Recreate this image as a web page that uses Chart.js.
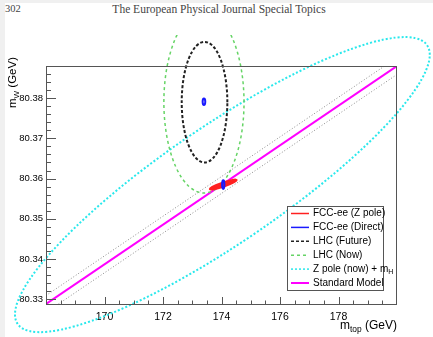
<!DOCTYPE html>
<html>
<head>
<meta charset="utf-8">
<script src="https://cdn.jsdelivr.net/npm/chart.js@4.4.0/dist/chart.umd.min.js"></script>
<style>
  html, body { margin: 0; padding: 0; }
  body { width: 433px; height: 337px; overflow: hidden; position: relative; background: #f0f0f0; }
  #page { position: absolute; left: 5px; top: 3px; right: 0; bottom: 0; background: #fff; }
  #pageno { position: absolute; left: 5px; top: 3px; font: 10.5px "Liberation Serif", serif; color: #444; }
  #runhead { position: absolute; left: 0; width: 438px; top: 3px; text-align: center; font: 11.5px "Liberation Serif", serif; color: #444; }
  #wrap { position: absolute; left: 0; top: 35px; width: 433px; height: 302px; }
</style>
</head>
<body>
<div id="page"></div>
<div id="pageno">302</div>
<div id="runhead">The European Physical Journal Special Topics</div>
<div id="wrap"><canvas id="c" width="433" height="302"></canvas></div>
<script>
// axis range and ticks
const xMin = 168, xMax = 180;
const yMin = 80.3288, yMax = 80.388;
const xTicks = [170, 172, 174, 176, 178];
const yTicks = [80.33, 80.34, 80.35, 80.36, 80.37, 80.38];

// Standard Model line and its band
const smTop = [168, 180];
const smW = [80.3288, 80.388];
const bandUpW = [80.3309, 80.3901];
const bandLoW = [80.3267, 80.3859];

// contours: centre, half widths, correlation
const zPoleNow = { mt: 174.03, mw: 80.3585, sMt: 7.09, sMw: 0.0367, rho: 0.88 };
const lhcNow = { mt: 173.40, mw: 80.3790, sMt: 1.37, sMw: 0.0226, rho: 0 };
const lhcFuture = { mt: 173.42, mw: 80.3790, sMt: 0.78, sMw: 0.0150, rho: 0 };
const fccZpole = { mt: 174.06, mw: 80.3585, sMt: 0.46, sMw: 0.00124, rho: 0.9 };
const fccDirectA = { mt: 173.40, mw: 80.3791, sMt: 0.045, sMw: 0.0008, rho: 0 };
const fccDirectB = { mt: 174.06, mw: 80.3585, sMt: 0.04, sMw: 0.0011, rho: 0 };

const legendLabels = ['FCC-ee (Z pole)', 'FCC-ee (Direct)', 'LHC (Future)', 'LHC (Now)', 'Z pole (now) + m_H', 'Standard Model'];
const legendColors = ['#ff2020', '#1a1aff', '#222222', '#66d466', '#2ae8ec', '#ff00ff'];
const legendDash = [[], [], [3, 2], [3, 3], [2, 2], []];
const legendWidth = [1.5, 1.5, 1.5, 1.5, 1.5, 2];

const contours = [
  { c: zPoleNow, color: '#2ae8ec', dash: [2, 2], width: 2 },
  { c: lhcNow, color: '#66d466', dash: [3, 3], width: 1.5 },
  { c: lhcFuture, color: '#222222', dash: [3, 2], width: 2 },
  { c: fccZpole, color: '#ff2020', dash: [], width: 2, fill: true },
  { c: fccDirectA, color: '#1a1aff', dash: [], width: 2 },
  { c: fccDirectB, color: '#1a1aff', dash: [], width: 2 }
];

const FONT = '"Liberation Sans", Arial, sans-serif';

function drawContour(chart, item) {
  const { ctx, scales: { x, y } } = chart;
  const c = item.c;
  const cx = x.getPixelForValue(c.mt), cy = y.getPixelForValue(c.mw);
  const ax = x.getPixelForValue(c.mt + c.sMt) - cx;
  const ay = y.getPixelForValue(c.mw + c.sMw) - cy;
  const r = Math.sqrt(1 - c.rho * c.rho);
  ctx.save();
  ctx.beginPath();
  ctx.transform(ax, c.rho * ay, 0, r * ay, cx, cy);
  ctx.arc(0, 0, 1, 0, 2 * Math.PI);
  ctx.restore();
  ctx.save();
  if (item.fill) {
    ctx.fillStyle = item.color;
    ctx.fill();
  }
  ctx.strokeStyle = item.color;
  ctx.lineWidth = item.width;
  ctx.setLineDash(item.dash);
  ctx.stroke();
  ctx.restore();
}

// text with "_X" subscript
function richText(ctx, text, x, y, size) {
  const parts = text.split('_');
  ctx.font = size + 'px ' + FONT;
  ctx.fillText(parts[0], x, y);
  if (parts.length > 1) {
    const w = ctx.measureText(parts[0]).width;
    const sub = parts[1].split(' ')[0];
    const rest = parts[1].slice(sub.length);
    ctx.font = (size * 0.7) + 'px ' + FONT;
    ctx.fillText(sub, x + w, y + size * 0.25);
    const ws = ctx.measureText(sub).width;
    ctx.font = size + 'px ' + FONT;
    ctx.fillText(rest, x + w + ws, y);
  }
}
function richWidth(ctx, text, size) {
  const parts = text.split('_');
  ctx.font = size + 'px ' + FONT;
  let w = ctx.measureText(parts[0]).width;
  if (parts.length > 1) {
    const sub = parts[1].split(' ')[0];
    ctx.font = (size * 0.7) + 'px ' + FONT;
    w += ctx.measureText(sub).width;
    ctx.font = size + 'px ' + FONT;
    w += ctx.measureText(parts[1].slice(sub.length)).width;
  }
  return w;
}

const rootStyle = {
  id: 'rootStyle',
  afterDatasetsDraw(chart) {
    const { ctx, chartArea: a, scales: { x, y } } = chart;
    contours.forEach(item => drawContour(chart, item));

    // frame
    ctx.save();
    ctx.strokeStyle = '#555';
    ctx.lineWidth = 1;
    ctx.strokeRect(a.left + 0.5, a.top + 0.5, a.right - a.left - 1, a.bottom - a.top);
    // ticks inside the frame
    ctx.beginPath();
    for (let v = xMin + 0.5; v < xMax; v += 0.5) {
      const px = Math.round(x.getPixelForValue(v)) + 0.5;
      const len = xTicks.includes(Math.round(v * 2) / 2) ? 7 : 3.5;
      ctx.moveTo(px, a.bottom);
      ctx.lineTo(px, a.bottom - len);
    }
    for (let k = 0; k * 0.002 + 80.33 < yMax; k++) {
      const v = 80.33 + k * 0.002;
      const py = Math.round(y.getPixelForValue(v)) + 0.5;
      const len = k % 5 === 0 ? 10 : 5;
      ctx.moveTo(a.left, py);
      ctx.lineTo(a.left + len, py);
    }
    ctx.stroke();
    ctx.restore();

    // axis titles
    ctx.save();
    ctx.fillStyle = '#000';
    ctx.textBaseline = 'alphabetic';
    const xt = 'm_top (GeV)';
    richText(ctx, xt, a.right - richWidth(ctx, xt, 12), a.bottom + 25, 12);
    const yt = 'm_W (GeV)';
    ctx.translate(16, 22);
    ctx.rotate(-Math.PI / 2);
    richText(ctx, yt, -richWidth(ctx, yt, 11.5), 0, 11.5);
    ctx.restore();

    // legend
    const lx = a.right - 110, lw = 96, ly = a.bottom - 98, lh = 84;
    ctx.save();
    ctx.fillStyle = '#fff';
    ctx.fillRect(lx, ly, lw, lh);
    ctx.strokeStyle = '#555';
    ctx.lineWidth = 1;
    ctx.strokeRect(lx + 0.5, ly + 0.5, lw, lh);
    ctx.textBaseline = 'middle';
    legendLabels.forEach((lab, i) => {
      const yy = ly + 7.5 + i * 13.9;
      ctx.beginPath();
      ctx.strokeStyle = legendColors[i];
      ctx.lineWidth = legendWidth[i];
      ctx.setLineDash(legendDash[i]);
      ctx.moveTo(lx + 4, yy);
      ctx.lineTo(lx + 22, yy);
      ctx.stroke();
      ctx.fillStyle = '#000';
      richText(ctx, lab, lx + 26, yy, 10);
    });
    ctx.restore();
  }
};

const mkLine = (label, ys, color, w, dash) => ({
  label,
  data: smTop.map((v, i) => ({ x: v, y: ys[i] })),
  showLine: true,
  borderColor: color,
  borderWidth: w,
  borderDash: dash,
  pointRadius: 0,
  fill: false
});

new Chart(document.getElementById('c'), {
  type: 'scatter',
  data: {
    datasets: [
      mkLine('band up', bandUpW, '#8a8a8a', 1, [1, 2]),
      mkLine('band low', bandLoW, '#8a8a8a', 1, [1, 2]),
      mkLine('Standard Model', smW, '#ff00ff', 2, [])
    ]
  },
  options: {
    responsive: false,
    animation: false,
    devicePixelRatio: 1,
    layout: { padding: { left: 0, top: 31, right: 36, bottom: 0 } },
    plugins: { legend: { display: false }, tooltip: { enabled: false } },
    scales: {
      x: {
        type: 'linear', min: xMin, max: xMax,
        afterBuildTicks: s => { s.ticks = xTicks.map(v => ({ value: v })); },
        afterFit: s => { s.height = 33; },
        grid: { display: false, drawTicks: false },
        border: { display: false },
        ticks: { padding: 7, color: '#000', maxRotation: 0, font: { family: FONT, size: 10.5 }, callback: v => String(v) }
      },
      y: {
        type: 'linear', min: yMin, max: yMax,
        afterBuildTicks: s => { s.ticks = yTicks.map(v => ({ value: v })); },
        afterFit: s => { s.width = 46; },
        grid: { display: false, drawTicks: false },
        border: { display: false },
        ticks: { padding: 3, color: '#000', font: { family: FONT, size: 9.5 }, callback: v => v.toFixed(2) }
      }
    }
  },
  plugins: [rootStyle]
});
</script>
</body>
</html>
